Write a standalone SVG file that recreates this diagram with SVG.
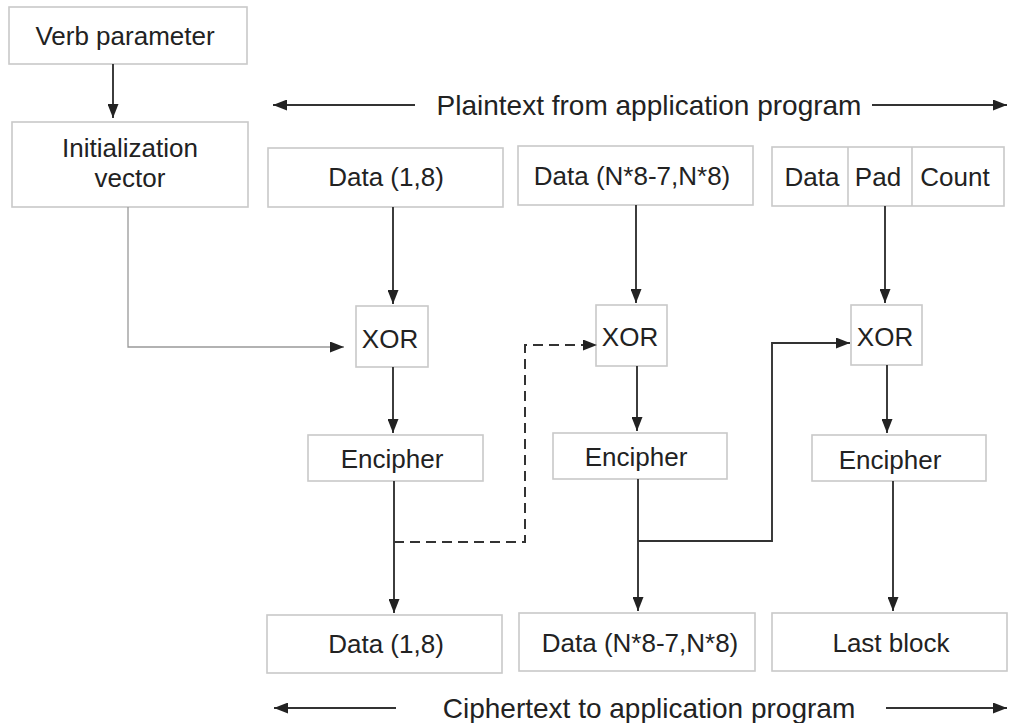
<svg xmlns="http://www.w3.org/2000/svg" width="1010" height="723" viewBox="0 0 1010 723">
<defs>
<marker id="ah" markerWidth="14" markerHeight="11" refX="14" refY="5.5" orient="auto" markerUnits="userSpaceOnUse">
<path d="M0,0 L14,5.5 L0,11 Z" fill="#222"/>
</marker>
<style>
.box{fill:#fff;stroke:#c9c9c9;stroke-width:1.6}
.t{font-family:"Liberation Sans",Arial,sans-serif;font-size:26px;fill:#222;text-anchor:middle}
.h{font-family:"Liberation Sans",Arial,sans-serif;font-size:28px;fill:#222;text-anchor:middle}
.ln{fill:none;stroke:#333;stroke-width:1.9}
.thin{fill:none;stroke:#999;stroke-width:1.3}
.dash{fill:none;stroke:#333;stroke-width:2;stroke-dasharray:10,6}
</style>
</defs>
<rect width="1010" height="723" fill="#fff"/>

<g id="verb"><rect class="box" x="9" y="7" width="238" height="57"/><text class="t" x="125" y="45">Verb parameter</text></g>
<g id="iv"><rect class="box" x="12" y="122" width="236" height="85"/><text class="t" x="130" y="157">Initialization</text><text class="t" x="130" y="187">vector</text></g>

<g id="plaintext"><text class="h" x="649" y="115">Plaintext from application program</text></g>
<g id="ciphertext"><text class="h" x="649" y="718">Ciphertext to application program</text></g>

<g id="in1"><rect class="box" x="268" y="148" width="235" height="59"/><text class="t" x="386" y="186">Data (1,8)</text></g>
<g id="in2"><rect class="box" x="518" y="146" width="235" height="59"/><text class="t" x="632" y="185">Data (N*8-7,N*8)</text></g>
<g id="in3"><rect class="box" x="772" y="147" width="232" height="59"/>
<line x1="848" y1="147" x2="848" y2="206" stroke="#c9c9c9" stroke-width="1.6"/>
<line x1="912" y1="147" x2="912" y2="206" stroke="#c9c9c9" stroke-width="1.6"/>
<text class="t" x="812" y="186">Data</text><text class="t" x="878" y="186">Pad</text><text class="t" x="955" y="186">Count</text></g>

<g id="xor1"><rect class="box" x="356" y="306" width="72" height="61"/><text class="t" x="390" y="348">XOR</text></g>
<g id="xor2"><rect class="box" x="596" y="305" width="71" height="61"/><text class="t" x="630" y="346">XOR</text></g>
<g id="xor3"><rect class="box" x="851" y="305" width="71" height="60"/><text class="t" x="885" y="346">XOR</text></g>

<g id="enc1"><rect class="box" x="308" y="435" width="175" height="46"/><text class="t" x="392" y="468">Encipher</text></g>
<g id="enc2"><rect class="box" x="553" y="433" width="174" height="46"/><text class="t" x="636" y="466">Encipher</text></g>
<g id="enc3"><rect class="box" x="812" y="435" width="174" height="46"/><text class="t" x="890" y="469">Encipher</text></g>

<g id="out1"><rect class="box" x="267" y="615" width="235" height="58"/><text class="t" x="386" y="653">Data (1,8)</text></g>
<g id="out2"><rect class="box" x="519" y="613" width="236" height="58"/><text class="t" x="640" y="652">Data (N*8-7,N*8)</text></g>
<g id="out3"><rect class="box" x="772" y="613" width="235" height="58"/><text class="t" x="891" y="652">Last block</text></g>

<g id="connectors">
<line class="ln" x1="113" y1="64" x2="113" y2="118" marker-end="url(#ah)"/>
<line class="ln" x1="415" y1="105" x2="273" y2="105" marker-end="url(#ah)"/>
<line class="ln" x1="872" y1="105" x2="1007" y2="105" marker-end="url(#ah)"/>
<line class="ln" x1="396" y1="708" x2="274" y2="708" marker-end="url(#ah)"/>
<line class="ln" x1="886" y1="708" x2="1007" y2="708" marker-end="url(#ah)"/>

<polyline class="thin" points="128,207 128,347 344,347" marker-end="url(#ah)"/>

<line class="ln" x1="393" y1="207" x2="393" y2="304" marker-end="url(#ah)"/>
<line class="ln" x1="636" y1="205" x2="636" y2="303" marker-end="url(#ah)"/>
<line class="ln" x1="885" y1="206" x2="885" y2="303" marker-end="url(#ah)"/>

<line class="ln" x1="393" y1="367" x2="393" y2="433" marker-end="url(#ah)"/>
<line class="ln" x1="637" y1="366" x2="637" y2="431" marker-end="url(#ah)"/>
<line class="ln" x1="887" y1="365" x2="887" y2="433" marker-end="url(#ah)"/>

<line class="ln" x1="394" y1="481" x2="394" y2="613" marker-end="url(#ah)"/>
<line class="ln" x1="638" y1="479" x2="638" y2="611" marker-end="url(#ah)"/>
<line class="ln" x1="893" y1="481" x2="893" y2="611" marker-end="url(#ah)"/>

<polyline class="dash" points="394,542 525,542 525,345 597,345" marker-end="url(#ah)"/>
<polyline class="ln" points="638,541 772,541 772,343 850,343" marker-end="url(#ah)"/>
</g>
</svg>
